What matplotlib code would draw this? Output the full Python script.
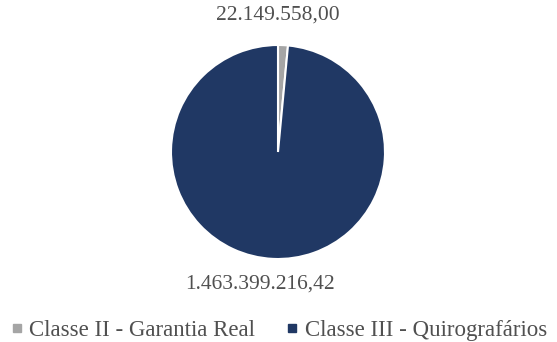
import matplotlib.pyplot as plt
from matplotlib.lines import Line2D

categories = ['Classe II - Garantia Real', 'Classe III - Quirografários']
values = [22149558.00, 1463399216.42]
value_labels = ['22.149.558,00', '1.463.399.216,42']
colors = ['#A5A5A5', '#203864']

plt.rcParams['font.family'] = ['Liberation Serif', 'DejaVu Serif']
text_color = '#505050'

fig = plt.figure(figsize=(5.57, 3.42), dpi=100)
ax = fig.add_axes([171 / 557, 83 / 342, 214 / 557, 214 / 342])

wedges, _ = ax.pie(values, colors=colors, startangle=90, counterclock=False,
                   wedgeprops=dict(edgecolor='white', linewidth=1.5))
ax.set_xlim(-1, 1)
ax.set_ylim(-1, 1)
ax.set_aspect('equal')

# value labels outside the pie
ax.text(0.0, 1.28, value_labels[0], ha='center', va='center', fontsize=15.5,
        color=text_color, clip_on=False)
ax.text(-0.17, -1.235, value_labels[1], ha='center', va='center', fontsize=15.5,
        color=text_color, clip_on=False)

handles = [Line2D([], [], marker='s', linestyle='none', markersize=5.5,
                  markerfacecolor=c, markeredgecolor=c) for c in colors]
fig.legend(handles, categories, loc='center', bbox_to_anchor=(0.5, 12 / 342),
           ncol=2, frameon=False, fontsize=16.5, labelcolor=text_color,
           handletextpad=0.25, columnspacing=1.3, handlelength=0.6)

fig.savefig('out.png', dpi=100)
